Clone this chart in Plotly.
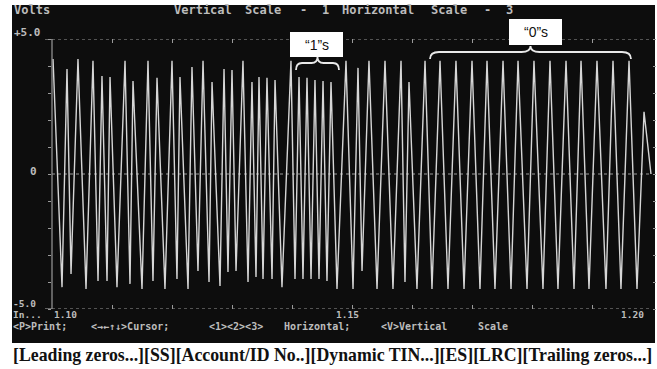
import plotly.graph_objects as go

# ---- data: read-head signal peaks (time units, volts) ----
peak_time = [
    1.10017, 1.10167, 1.10250, 1.10317, 1.10433, 1.10567, 1.10683, 1.10767, 1.10833, 1.10917,
    1.10967, 1.11083, 1.11217, 1.11300, 1.11350, 1.11500, 1.11600, 1.11683, 1.11750, 1.11883,
    1.12000, 1.12083, 1.12133, 1.12267, 1.12333, 1.12433, 1.12517, 1.12617, 1.12667, 1.12800,
    1.12867, 1.12933, 1.13000, 1.13067, 1.13183, 1.13267, 1.13333, 1.13400, 1.13450, 1.13517,
    1.13583, 1.13667, 1.13717, 1.13833, 1.13983, 1.14050, 1.14117, 1.14183, 1.14250, 1.14317,
    1.14383, 1.14450, 1.14517, 1.14583, 1.14650, 1.14750, 1.14900, 1.15017, 1.15100, 1.15167,
    1.15283, 1.15417, 1.15550, 1.15683, 1.15817, 1.15883, 1.15950, 1.16083, 1.16217, 1.16333,
    1.16467, 1.16600, 1.16733, 1.16867, 1.17000, 1.17133, 1.17250, 1.17383, 1.17517, 1.17650,
    1.17767, 1.17917, 1.18033, 1.18183, 1.18300, 1.18433, 1.18567, 1.18700, 1.18817, 1.18950,
    1.19083, 1.19233, 1.19350, 1.19483, 1.19617, 1.19750, 1.19867, 1.19983,
]
peak_volts = [
    4.26, -4.19, 3.89, -3.70, 4.26, -4.26, 4.19, -3.96, 3.63, -3.96,
    3.59, -4.19, 4.19, -4.07, 3.44, -4.26, 4.19, -3.96, 3.56, -4.26,
    4.19, -3.89, 3.59, -4.26, 3.96, -3.59, 4.19, -4.00, 3.41, -4.15,
    3.89, -3.63, 3.85, -3.59, 4.19, -4.00, 3.41, -3.81, 3.59, -3.89,
    3.56, -3.89, 3.48, -4.19, 4.19, -3.89, 3.59, -3.89, 3.56, -3.89,
    3.48, -3.89, 3.44, -3.96, 3.41, -4.26, 4.19, -4.26, 3.93, -3.59,
    4.19, -4.26, 4.19, -4.26, 4.19, -4.00, 3.41, -4.26, 4.19, -4.26,
    4.19, -4.26, 4.19, -4.26, 4.19, -4.26, 4.19, -4.26, 4.19, -4.26,
    4.19, -4.26, 4.19, -4.26, 4.19, -4.26, 4.19, -4.26, 4.19, -4.26,
    4.19, -4.26, 4.19, -4.26, 4.19, -4.26, 2.30, 0.0,
]
x_range = [1.10, 1.20]
y_range = [-5.0, 5.0]
x_labels = ["1.10", "1.15", "1.20"]
y_labels = ["+5.0", "0", "-5.0"]
header_words = ["Vertical", "Scale", "-", "1", "Horizontal", "Scale", "-", "3"]
footer_words = ["<P>Print;", "<→←↑↓>Cursor;", "<1><2><3>", "Horizontal;", "<V>Vertical", "Scale"]
caption = "[Leading zeros...][SS][Account/ID No..][Dynamic TIN...][ES][LRC][Trailing zeros...]"
brace_labels = ["“1”s", "“0”s"]

# ---- layout geometry (pixels) ----
W, H = 657, 369
L, R, T, B = 52, 5, 39, 60
PW, PH = W - L - R, H - T - B


def px(x):
    return (x - L) / PW


def py(y):
    return (H - B - y) / PH


SCREEN = "#0d0d0d"
GREY = "#bcbcbc"
MONO = "DejaVu Sans Mono"
esc = lambda s: s.replace("<", "&lt;").replace(">", "&gt;")

fig = go.Figure()
fig.add_trace(go.Scatter(x=peak_time, y=peak_volts, mode="lines",
                         line=dict(color="#d6d6d6", width=1.4), hoverinfo="skip"))

shapes = []
# dark screen
shapes.append(dict(type="rect", xref="paper", yref="paper", x0=px(12), x1=px(655),
                   y0=py(343), y1=py(5), fillcolor=SCREEN, line_width=0, layer="below"))
# dotted reference lines
for v in (y_range[1], 0, y_range[0]):
    shapes.append(dict(type="line", xref="x", yref="y", x0=x_range[0], x1=x_range[1], y0=v, y1=v,
                       line=dict(color="#9a9a9a", width=1, dash="dot"), layer="below"))
# left axis line and end brackets
shapes.append(dict(type="line", xref="paper", yref="y", x0=0, x1=0, y0=y_range[0], y1=y_range[1],
                   line=dict(color="#9a9a9a", width=1.2)))
for v in (y_range[1], y_range[0]):
    shapes.append(dict(type="line", xref="paper", yref="y", x0=px(45), x1=0, y0=v, y1=v,
                       line=dict(color="#9a9a9a", width=1.2)))

# label boxes
boxes = [(290, 343, 32, 57), (509, 562, 19, 45)]
for (x0, x1, y0, y1) in boxes:
    shapes.append(dict(type="rect", xref="paper", yref="paper", x0=px(x0), x1=px(x1),
                       y0=py(y1), y1=py(y0), fillcolor="white", line_width=0, layer="above"))


def brace(x0, x1, ytop, ymid, ybot, r=6):
    xc = (x0 + x1) / 2
    pts = [("M", x0, ybot), ("Q", x0, ymid), ("", x0 + r, ymid), ("L", xc - r, ymid),
           ("Q", xc, ymid), ("", xc, ytop), ("Q", xc, ymid), ("", xc + r, ymid),
           ("L", x1 - r, ymid), ("Q", x1, ymid), ("", x1, ybot)]
    s = ""
    for c, x, y in pts:
        s += f"{c} {px(x):.5f},{py(y):.5f} "
    return s.strip()


shapes.append(dict(type="path", xref="paper", yref="paper", path=brace(296, 339, 57, 63, 70),
                   line=dict(color="#e8e8e8", width=1.8), layer="above"))
shapes.append(dict(type="path", xref="paper", yref="paper", path=brace(430, 631, 46, 52, 59, r=9),
                   line=dict(color="#e8e8e8", width=1.8), layer="above"))

ann = []


def text(s, x, y, size=11, color=GREY, anchor="left", family=MONO, bold=True, pad=1):
    ann.append(dict(text=esc(s), x=px(x), y=py(y), xref="paper", yref="paper", showarrow=False,
                    xanchor=anchor, yanchor="middle", borderpad=pad,
                    font=dict(family=family, size=size, color=color,
                              weight="bold" if bold else "normal")))


text("Volts", 12, 10, size=12)
for w, x in zip(header_words, [172, 243, 298, 320, 340, 429, 482, 504]):
    text(w, x, 10, size=12)
text(y_labels[0], 12, 32, size=11)
text(y_labels[1], 28, 171, size=11)
text(y_labels[2], 12, 303, size=9.5, pad=0)
text("In...", 12, 314.5, size=9.5, pad=0)
text(x_labels[0], 53, 314.5, size=9.5, pad=0)
text(x_labels[1], 347, 314.5, size=9.5, anchor="center", pad=0)
text(x_labels[2], 645, 314.5, size=9.5, anchor="right", pad=0)
for w, x in zip(footer_words, [12, 90, 208, 283, 380, 477]):
    text(w, x, 326, size=10, pad=0)
text(caption, 332, 355, size=17.8, color="#111111", anchor="center", family="Liberation Serif")
text(brace_labels[0], 316.5, 45, size=14, color="#111111", anchor="center", family="Liberation Sans", bold=False)
text(brace_labels[1], 535.5, 32, size=14, color="#111111", anchor="center", family="Liberation Sans", bold=False)

fig.update_layout(
    width=W, height=H, margin=dict(l=L, r=R, t=T, b=B, pad=0),
    paper_bgcolor="white", plot_bgcolor=SCREEN, showlegend=False,
    shapes=shapes, annotations=ann,
    xaxis=dict(range=x_range, showgrid=False, zeroline=False, showline=False,
               tick0=1.10, dtick=0.01, ticks="inside", ticklen=4, tickcolor="#9a9a9a",
               mirror="ticks", showticklabels=False),
    yaxis=dict(range=y_range, showgrid=False, zeroline=False, showline=False,
               tick0=0, dtick=1, ticks="outside", ticklen=3, tickcolor="#9a9a9a",
               mirror="ticks", showticklabels=False),
)
fig.write_html("out.html", config={"displayModeBar": False},
               post_script="document.body.style.margin='0px';")
